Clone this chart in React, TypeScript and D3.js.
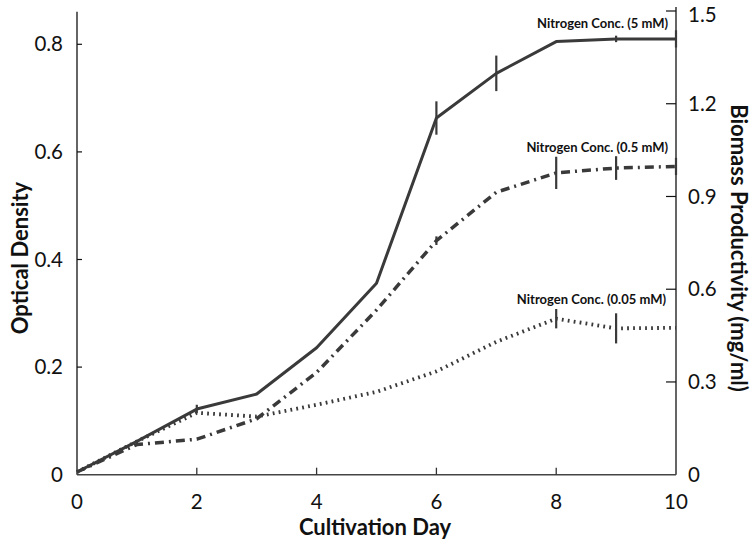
import React from "react";
import * as d3 from "d3";

const days = [0, 1, 2, 3, 4, 5, 6, 7, 8, 9, 10];
const high = [0.005, 0.062, 0.122, 0.15, 0.236, 0.356, 0.663, 0.746, 0.805, 0.81, 0.81];
const mid = [0.005, 0.056, 0.066, 0.104, 0.19, 0.306, 0.435, 0.525, 0.561, 0.57, 0.573];
const low = [0.005, 0.062, 0.115, 0.108, 0.13, 0.154, 0.192, 0.247, 0.29, 0.272, 0.273];
const highErr = [0, 0, 0.008, 0, 0, 0, 0.031, 0.033, 0, 0.006, 0.016];
const midErr = [0, 0, 0, 0, 0, 0, 0.008, 0, 0.03, 0.022, 0.016];
const lowErr = [0, 0, 0, 0, 0, 0, 0, 0, 0.018, 0.028, 0];
const xTicks = [0, 2, 4, 6, 8, 10];
const leftTicks = [0, 0.2, 0.4, 0.6, 0.8];
const leftTickLabels = ["0", "0.2", "0.4", "0.6", "0.8"];
const rightTicks = [0, 0.3, 0.6, 0.9, 1.2, 1.5];
const rightTickLabels = ["0", "0.3", "0.6", "0.9", "1.2", "1.5"];
const seriesLabels = ["Nitrogen Conc. (5 mM)", "Nitrogen Conc. (0.5 mM)", "Nitrogen Conc. (0.05 mM)"];

const W = 754;
const H = 546;
const x0 = 77;
const x1 = 676;
const yBottom = 474.7;
const col = "#3a3a3a";
const font = "Lato, 'Open Sans', sans-serif";

export default function App() {
  const x = d3.scaleLinear().domain([0, 10]).range([x0, x1]);
  const yL = d3.scaleLinear().domain([0, 0.8]).range([yBottom, 44.3]);
  const yR = d3.scaleLinear().domain([0, 1.5]).range([yBottom, 11]);
  const line = d3
    .line<[number, number]>()
    .x((d) => x(d[0]))
    .y((d) => yL(d[1]));

  const series = [
    { vals: high, err: highErr, dash: undefined as string | undefined, w: 3 },
    { vals: mid, err: midErr, dash: "9,5,2,5", w: 3.5 },
    { vals: low, err: lowErr, dash: "1.8,4.2", w: 3.8 },
  ];

  return (
    <svg width={W} height={H} style={{ position: "absolute", left: 0, top: 0, background: "#fff" }}>
      <rect x={0} y={0} width={W} height={H} fill="#fff" />
      {/* axes */}
      <line x1={x0} y1={11.7} x2={x0} y2={yBottom} stroke="#111" strokeWidth={1.3} />
      <line x1={x1} y1={yR(1.5) - 4} x2={x1} y2={yBottom} stroke="#111" strokeWidth={1.3} />
      <line x1={x0} y1={yBottom} x2={x1} y2={yBottom} stroke="#444" strokeWidth={1.6} />
      {leftTicks.map((t, i) => (
        <g key={"l" + i}>
          {i > 0 && <line x1={x0} x2={x0 + 5} y1={yL(t)} y2={yL(t)} stroke="#111" strokeWidth={1.2} />}
          <text x={x0 - 14} y={yL(t)} dy="0.35em" textAnchor="end" fontFamily={font} fontSize={20.5} fill="#111">
            {leftTickLabels[i]}
          </text>
        </g>
      ))}
      {rightTicks.map((t, i) => (
        <g key={"r" + i}>
          {i > 0 && <line x1={x1 - 10} x2={x1} y1={yR(t)} y2={yR(t)} stroke="#111" strokeWidth={1.2} />}
          <text
            x={x1 + 12}
            y={i === rightTicks.length - 1 ? yR(t) + 4 : yR(t)}
            dy="0.35em"
            textAnchor="start"
            fontFamily={font}
            fontSize={20.5}
            fill="#111"
          >
            {rightTickLabels[i]}
          </text>
        </g>
      ))}
      {xTicks.map((t, i) => (
        <g key={"x" + i}>
          {i > 0 && i < xTicks.length - 1 && (
            <line x1={x(t)} x2={x(t)} y1={yBottom - 7} y2={yBottom} stroke="#333" strokeWidth={1.3} />
          )}
          <text x={x(t)} y={509} textAnchor="middle" fontFamily={font} fontSize={20.5} fill="#111">
            {t}
          </text>
        </g>
      ))}
      {/* titles */}
      <text x={375} y={535} textAnchor="middle" fontFamily={font} fontWeight="bold" fontSize={22} fill="#111">
        Cultivation Day
      </text>
      <text
        transform={`translate(28,258) rotate(-90)`}
        textAnchor="middle"
        fontFamily={font}
        fontWeight="bold"
        fontSize={22}
        fill="#111"
      >
        Optical Density
      </text>
      <text
        transform={`translate(731,248) rotate(90)`}
        textAnchor="middle"
        fontFamily={font}
        fontWeight="bold"
        fontSize={22}
        fill="#111"
      >
        Biomass Productivity (mg/ml)
      </text>
      {/* series */}
      {series.map((s, k) => (
        <g key={"s" + k}>
          <path
            d={line(days.map((d, i) => [d, s.vals[i]] as [number, number])) || ""}
            fill="none"
            stroke={col}
            strokeWidth={s.w}
            strokeDasharray={s.dash}
            strokeLinejoin="round"
          />
          {days.map((d, i) =>
            s.err[i] > 0 ? (
              <line
                key={i}
                x1={x(d)}
                x2={x(d)}
                y1={yL(s.vals[i] - s.err[i])}
                y2={yL(s.vals[i] + s.err[i])}
                stroke={col}
                strokeWidth={2.2}
              />
            ) : null
          )}
        </g>
      ))}
      {/* series labels */}
      <text x={668} y={28} textAnchor="end" fontFamily={font} fontWeight="bold" fontSize={13} fill="#111">
        {seriesLabels[0]}
      </text>
      <text x={668} y={152} textAnchor="end" fontFamily={font} fontWeight="bold" fontSize={13} fill="#111">
        {seriesLabels[1]}
      </text>
      <text x={666} y={304} textAnchor="end" fontFamily={font} fontWeight="bold" fontSize={13} fill="#111">
        {seriesLabels[2]}
      </text>
    </svg>
  );
}
